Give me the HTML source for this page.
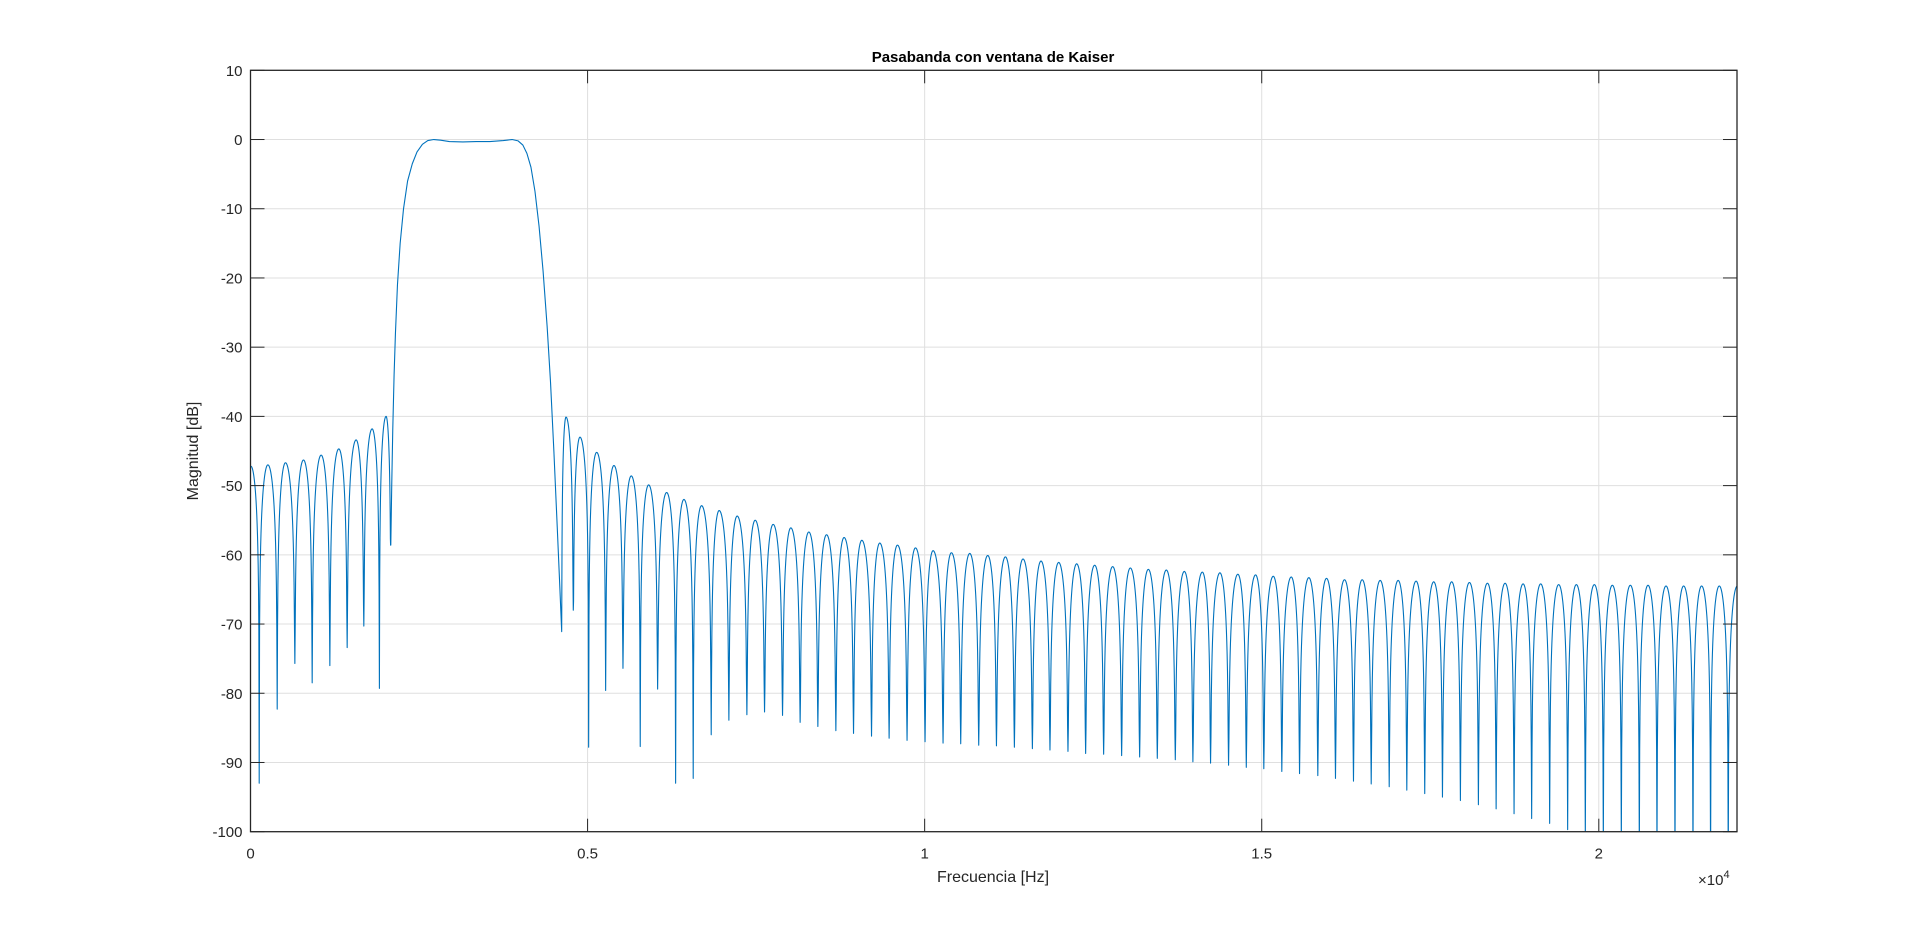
<!DOCTYPE html>
<html><head><meta charset="utf-8"><style>
html,body{margin:0;padding:0;background:#fff;}
svg{display:block;font-family:"Liberation Sans",Arial,sans-serif;}
</style></head><body>
<svg id="chart" width="1920" height="936" viewBox="0 0 1920 936" xmlns="http://www.w3.org/2000/svg">
<defs><clipPath id="plotclip"><rect x="250.5" y="70.3" width="1486.5" height="761.4"/></clipPath></defs>
<rect x="250.5" y="70.3" width="1486.5" height="761.4" fill="#fff"/>
<g id="grid"></g>
<g id="series" clip-path="url(#plotclip)"></g>
<g id="axes"></g>
<text x="993" y="62" text-anchor="middle" font-size="15" font-weight="bold" fill="#000">Pasabanda con ventana de Kaiser</text>
<text x="993" y="882" text-anchor="middle" font-size="16" fill="#262626">Frecuencia [Hz]</text>
<text transform="translate(198,451) rotate(-90)" text-anchor="middle" font-size="16" fill="#262626">Magnitud [dB]</text>
<text x="1698" y="885" font-size="15" fill="#262626">×10<tspan dy="-7" font-size="11">4</tspan></text>
</svg>
<script>
// ---- data ----
const xTicks = [0, 5000, 10000, 15000, 20000];
const xTickLabels = ["0", "0.5", "1", "1.5", "2"];
const yTicks = [10, 0, -10, -20, -30, -40, -50, -60, -70, -80, -90, -100];
const yTickLabels = ["10", "0", "-10", "-20", "-30", "-40", "-50", "-60", "-70", "-80", "-90", "-100"];

// left stopband lobes
const leftNullHz = [-129, 129, 396, 658, 915, 1177, 1434, 1681, 1912, 2081];
const leftNullDb = [-93, -93, -82.3, -75.7, -78.5, -76, -73.4, -70.3, -79.3, -58.6];
const leftPeakHz = [6, 258, 519, 786, 1048, 1310, 1567, 1804, 2011];
const leftPeakDb = [-47.2, -47.0, -46.7, -46.3, -45.6, -44.7, -43.4, -41.8, -40.0];

// passband transition + flat region
const passHz = [2081, 2095, 2110, 2130, 2150, 2180, 2220, 2270, 2330, 2400, 2470, 2550, 2630, 2720, 2820, 2950, 3150, 3350, 3550, 3750, 3880, 3970, 4040, 4100, 4160, 4220, 4280, 4340, 4400, 4450, 4500, 4550, 4590, 4616];
const passDb = [-58.6, -50, -42, -34, -28, -21, -15, -10, -6, -3.5, -1.8, -0.7, -0.15, 0, -0.1, -0.3, -0.35, -0.3, -0.3, -0.15, 0, -0.2, -0.8, -2, -4, -7.5, -12.5, -19, -27, -35, -45, -56, -65, -71.1];

// right stopband lobes
const rightNullHz = [4616, 4788, 5016, 5268, 5525, 5781, 6039, 6306, 6567, 6834, 7096, 7363, 7625, 7892, 8153, 8416, 8683, 8945, 9212, 9473, 9739, 10006, 10273,
  10535, 10802, 11065, 11331, 11598, 11859, 12126, 12388, 12655, 12922, 13189, 13451, 13718, 13979, 14241, 14508, 14771, 15031, 15298, 15561, 15832, 16094, 16361,
  16624, 16891, 17152, 17418, 17681, 17947, 18214, 18477, 18743, 19004, 19271, 19538, 19800, 20067, 20334, 20601, 20863, 21130, 21397, 21658, 21920, 22190];
const rightNullDb = [-71.1, -68.0, -87.8, -79.6, -76.4, -87.7, -79.4, -93.0, -92.3, -86.0, -83.9, -83.1, -82.7, -83.2, -84.2, -84.8, -85.4, -85.8, -86.2, -86.5, -86.8, -87.0, -87.2,
  -87.3, -87.5, -87.6, -87.8, -88.0, -88.2, -88.4, -88.7, -88.8, -89.0, -89.2, -89.4, -89.6, -89.9, -90.1, -90.4, -90.7, -90.9, -91.3, -91.6, -91.9, -92.3, -92.7,
  -93.1, -93.5, -94.0, -94.5, -95.0, -95.5, -96.1, -96.7, -97.4, -98.1, -98.8, -99.7, -101, -102, -102, -103, -103, -104, -104, -105, -105, -105];
const rightPeakHz = [4680, 4887, 5135, 5391, 5648, 5906, 6173, 6429, 6691, 6952, 7219, 7486, 7753, 8015, 8282, 8545, 8805, 9068, 9334, 9597, 9864, 10125, 10397,
  10669, 10936, 11198, 11459, 11726, 11988, 12255, 12522, 12789, 13051, 13318, 13585, 13852, 14119, 14380, 14646, 14909, 15171, 15438, 15699, 15961, 16228,
  16490, 16757, 17024, 17290, 17551, 17818, 18081, 18348, 18610, 18877, 19138, 19405, 19667, 19934, 20201, 20468, 20730, 20997, 21258, 21525, 21787, 22055];
const rightPeakDb = [-40.1, -43.0, -45.2, -47.1, -48.6, -49.9, -51.0, -52.0, -52.9, -53.6, -54.4, -55.0, -55.6, -56.1, -56.7, -57.1, -57.5, -57.9, -58.3, -58.6, -59.0, -59.4, -59.7,
  -59.8, -60.1, -60.3, -60.6, -60.9, -61.1, -61.3, -61.5, -61.7, -61.9, -62.1, -62.2, -62.4, -62.5, -62.6, -62.8, -62.9, -63.1, -63.2, -63.3, -63.4, -63.6,
  -63.6, -63.7, -63.7, -63.8, -63.9, -63.9, -64.0, -64.1, -64.1, -64.2, -64.2, -64.3, -64.3, -64.3, -64.4, -64.4, -64.4, -64.5, -64.5, -64.5, -64.5, -64.5];

// ---- axes ----
const L = 250.5, R = 1737, T = 70.3, B = 831.7;
const xMin = 0, xMax = 22050, yMin = -100, yMax = 10;
function xs(f) { return L + (f - xMin) / (xMax - xMin) * (R - L); }
function ys(d) { return B - (d - yMin) / (yMax - yMin) * (B - T); }
const NS = "http://www.w3.org/2000/svg";
function mk(tag, attrs, parent) {
  const e = document.createElementNS(NS, tag);
  for (const k in attrs) e.setAttribute(k, attrs[k]);
  parent.appendChild(e);
  return e;
}
const grid = document.getElementById('grid');
const axes = document.getElementById('axes');
const series = document.getElementById('series');

yTicks.forEach((v, i) => {
  const y = ys(v);
  if (v > yMin && v < yMax) {
    const g = mk('line', {x1: L, x2: R, y1: y, y2: y, stroke: '#dfdfdf', 'stroke-width': 1}, grid);
    
    
  }
  const t1 = mk('line', {x1: L, x2: L + 14, y1: y, y2: y, stroke: '#262626', 'stroke-width': 1}, axes);
  
  
  const t2 = mk('line', {x1: R - 14, x2: R, y1: y, y2: y, stroke: '#262626', 'stroke-width': 1}, axes);
  
  
  const lb = mk('text', {x: L - 8, y: y + 5.5, 'text-anchor': 'end', 'font-size': 15, fill: '#262626'}, axes);
  lb.textContent = yTickLabels[i];
  
  
});
xTicks.forEach((v, i) => {
  const x = xs(v);
  if (v > xMin && v < xMax) {
    const g = mk('line', {x1: x, x2: x, y1: T, y2: B, stroke: '#dfdfdf', 'stroke-width': 1}, grid);
    
    
  }
  const t1 = mk('line', {x1: x, x2: x, y1: B - 13, y2: B, stroke: '#262626', 'stroke-width': 1}, axes);
  
  
  const t2 = mk('line', {x1: x, x2: x, y1: T, y2: T + 13, stroke: '#262626', 'stroke-width': 1}, axes);
  
  
  const lb = mk('text', {x: x, y: B + 27, 'text-anchor': 'middle', 'font-size': 15, fill: '#262626'}, axes);
  lb.textContent = xTickLabels[i];
  
  
});
const box = mk('rect', {x: L, y: T, width: R - L, height: B - T, fill: 'none', stroke: '#262626', 'stroke-width': 1.3}, axes);



// ---- series ----
const pts = [];
function lobe(a, aDb, p, pDb, b, bDb) {
  const N = 24;
  pts.push([xs(a), ys(aDb)]);
  for (let k = 1; k <= N; k++) {
    const t = k / N * Math.PI / 2;
    const f = a + (p - a) * k / N;
    pts.push([xs(f), ys(Math.max(pDb + 20 * Math.log10(Math.sin(t)), aDb))]);
  }
  for (let k = 1; k < N; k++) {
    const t = Math.PI / 2 + k / N * Math.PI / 2;
    const f = p + (b - p) * k / N;
    pts.push([xs(f), ys(Math.max(pDb + 20 * Math.log10(Math.sin(t)), bDb))]);
  }
}
for (let i = 0; i < leftPeakHz.length; i++) {
  lobe(leftNullHz[i], leftNullDb[i], leftPeakHz[i], leftPeakDb[i], leftNullHz[i + 1], leftNullDb[i + 1]);
}
for (let i = 0; i < passHz.length; i++) pts.push([xs(passHz[i]), ys(passDb[i])]);
for (let i = 0; i < rightPeakHz.length; i++) {
  lobe(rightNullHz[i], rightNullDb[i], rightPeakHz[i], rightPeakDb[i], rightNullHz[i + 1], rightNullDb[i + 1]);
}
pts.push([xs(rightNullHz[rightNullHz.length - 1]), ys(rightNullDb[rightNullDb.length - 1])]);
const d = 'M' + pts.map(p => p[0].toFixed(2) + ',' + p[1].toFixed(2)).join('L');
const path = mk('path', {d: d, fill: 'none', stroke: '#0072BD', 'stroke-width': 1.1, 'stroke-linejoin': 'round'}, series);


</script>
</body></html>
